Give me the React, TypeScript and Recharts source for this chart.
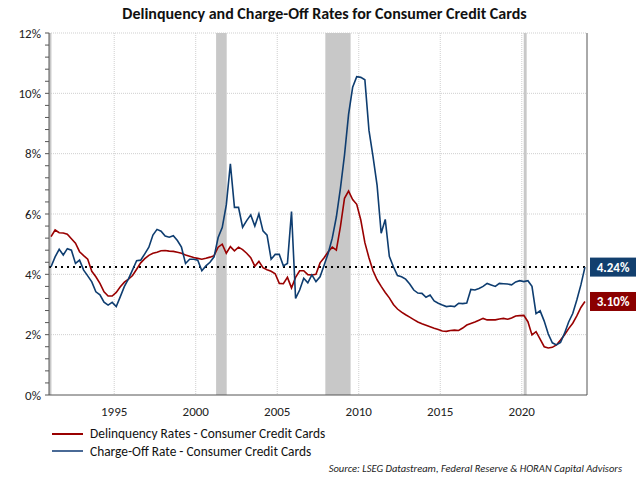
import {
  ComposedChart, Line, XAxis, YAxis, CartesianGrid, ReferenceArea, ReferenceLine, ReferenceDot,
} from 'recharts';

// quarterly observations, 1991Q1 .. 2023Q4 (plotted mid-quarter)
const startYear = 1991;

const delinquency = [
  5.25, 5.47, 5.38, 5.37, 5.33, 5.18, 5.03, 4.75, 4.62, 4.5, 4.1, 3.92,
  3.7, 3.42, 3.28, 3.28, 3.4, 3.59, 3.74, 3.84, 3.96, 4.17, 4.38, 4.52,
  4.63, 4.7, 4.73, 4.78, 4.79, 4.77, 4.76, 4.73, 4.7, 4.64, 4.6, 4.56,
  4.53, 4.5, 4.53, 4.57, 4.62, 4.9, 5.0, 4.7, 4.92, 4.78, 4.9, 4.82,
  4.7, 4.55, 4.27, 4.43, 4.22, 4.15, 4.1, 4.02, 3.7, 3.69, 3.9, 3.55,
  3.9, 4.12, 4.12, 3.99, 3.98, 4.0, 4.38, 4.55, 4.75, 4.9, 4.8, 5.58,
  6.52, 6.76, 6.48, 6.32, 5.8, 5.05, 4.55, 4.12, 3.82, 3.6, 3.4, 3.22,
  3.0, 2.85, 2.75, 2.66, 2.58, 2.5, 2.42, 2.36, 2.31, 2.26, 2.21, 2.17,
  2.12, 2.11, 2.14, 2.15, 2.14, 2.22, 2.32, 2.37, 2.42, 2.48, 2.54, 2.49,
  2.49, 2.49, 2.52, 2.54, 2.51, 2.55, 2.62, 2.63, 2.64, 2.43, 1.99, 2.1,
  1.85, 1.6, 1.56, 1.58, 1.66, 1.82, 2.0, 2.2, 2.38, 2.62, 2.9, 3.1,
];

const chargeOff = [
  4.25, 4.58, 4.83, 4.64, 4.85, 4.8, 4.36, 4.47, 4.14, 3.95, 3.75, 3.42,
  3.32, 3.08, 2.98, 3.07, 2.93, 3.26, 3.6, 3.85, 4.15, 4.45, 4.47, 4.68,
  4.9, 5.3, 5.49, 5.43, 5.27, 5.23, 5.28, 5.12, 4.9, 4.36, 4.5, 4.5,
  4.47, 4.12, 4.28, 4.4, 4.58, 5.22, 5.55, 6.3, 7.66, 6.22, 6.22, 5.56,
  5.78, 5.97, 5.6, 6.0, 5.44, 5.3, 4.5, 4.66, 4.66, 4.28, 4.36, 6.08,
  3.2, 3.48, 3.87, 3.72, 3.98, 3.76, 3.92, 4.3, 4.7, 5.2, 5.9, 6.85,
  7.95, 9.3, 10.2, 10.55, 10.53, 10.45, 8.78, 7.9, 6.95, 5.36, 5.82, 4.6,
  4.25, 3.96, 3.92, 3.84, 3.68, 3.48, 3.38, 3.37, 3.24, 3.31, 3.12, 3.04,
  2.98, 2.93, 2.95, 2.93, 3.04, 3.03, 3.05, 3.5, 3.48, 3.53, 3.6, 3.7,
  3.65, 3.6, 3.7, 3.69, 3.68, 3.65, 3.75, 3.79, 3.76, 3.79, 3.6, 2.7,
  2.79, 2.45, 2.02, 1.73, 1.66, 1.74, 2.05, 2.42, 2.7, 3.15, 3.65, 4.24,
];

const recessions = [
  [1991.0, 1991.15],
  [2001.25, 2001.9],
  [2007.95, 2009.5],
  [2020.12, 2020.3],
];

const yearTicks = [1995, 2000, 2005, 2010, 2015, 2020];
const pctGrid = [2, 4, 6, 8, 10, 12];
const pctTicks = [
  0, 0.4, 0.8, 1.2, 1.6, 2, 2.4, 2.8, 3.2, 3.6, 4, 4.4, 4.8, 5.2, 5.6, 6,
  6.4, 6.8, 7.2, 7.6, 8, 8.4, 8.8, 9.2, 9.6, 10, 10.4, 10.8, 11.2, 11.6, 12,
];

const RED = '#990000';
const BLUE = '#0e3d70';
const FONT = 'Carlito, Lato, "Liberation Sans", sans-serif';

const data = delinquency.map((d, i) => ({
  year: startYear + i / 4 + 0.125,
  delinquency: d,
  chargeOff: chargeOff[i],
}));

const lastDelinq = delinquency[delinquency.length - 1];
const lastCharge = chargeOff[chargeOff.length - 1];

const pctLabel = (v: number) => (Math.round(v * 10) % 20 === 0 ? `${v}%` : '');

function EndTag({ cx, cy, color, text }: any) {
  return (
    <g>
      <rect x={cx + 3} y={cy - 9.5} width={46} height={19} fill={color} />
      <text x={cx + 26} y={cy + 4.5} textAnchor="middle" fill="#fff" fontSize={13} fontWeight="bold" fontFamily={FONT}>
        {text}
      </text>
    </g>
  );
}

export default function App() {
  const axisTick = { fill: '#222', fontSize: 13, fontFamily: FONT };
  return (
    <div style={{ position: 'absolute', left: 0, top: 0, width: 639, height: 481, background: '#fff', fontFamily: FONT }}>
      <div style={{ position: 'absolute', top: 4, left: 5, width: 639, textAlign: 'center', fontSize: 16, fontWeight: 'bold', color: '#111' }}>
        Delinquency and Charge-Off Rates for Consumer Credit Cards
      </div>

      <ComposedChart width={639} height={420} data={data} margin={{ top: 33, right: 0, bottom: 0, left: 0 }}>
        <CartesianGrid stroke="#cfcfcf" strokeDasharray="1 1" horizontalValues={pctGrid} verticalValues={yearTicks} yAxisId="left" />
        {recessions.map(([a, b]) => (
          <ReferenceArea key={a} x1={a} x2={b} yAxisId="left" y1={0} y2={12} fill="#c8c8c8" fillOpacity={1} stroke="none" />
        ))}
        <XAxis
          dataKey="year" type="number" domain={[1991, 2024]} ticks={yearTicks} allowDataOverflow
          height={25} tick={axisTick} tickLine={false} axisLine={{ stroke: '#555' }} tickMargin={6}
        />
        <YAxis
          yAxisId="left" domain={[0, 12]} ticks={pctTicks} interval={0} tickFormatter={pctLabel} width={49}
          tick={axisTick} tickSize={4} tickLine={{ stroke: '#555' }} axisLine={{ stroke: '#555' }} tickMargin={4}
        />
        <YAxis
          yAxisId="right" orientation="right" domain={[0, 12]} ticks={pctTicks} interval={0} tickFormatter={pctLabel} width={52}
          tick={axisTick} tickSize={4} tickLine={{ stroke: '#555' }} axisLine={{ stroke: '#555' }} tickMargin={5}
        />
        <ReferenceLine yAxisId="left" y={lastCharge} stroke="#000" strokeWidth={2} strokeDasharray="2 4" />
        <Line yAxisId="left" dataKey="delinquency" stroke={RED} strokeWidth={1.6} dot={false} isAnimationActive={false} />
        <Line yAxisId="left" dataKey="chargeOff" stroke={BLUE} strokeWidth={1.6} dot={false} isAnimationActive={false} />
        <ReferenceDot yAxisId="left" x={2024} y={lastCharge} ifOverflow="visible"
          shape={(p: any) => <EndTag {...p} color="#123f6e" text={`${lastCharge.toFixed(2)}%`} />} />
        <ReferenceDot yAxisId="left" x={2024} y={lastDelinq} ifOverflow="visible"
          shape={(p: any) => <EndTag {...p} color="#8b0000" text={`${lastDelinq.toFixed(2)}%`} />} />
      </ComposedChart>

      <div style={{ position: 'absolute', left: 52, top: 425, fontSize: 13.4, color: '#111', lineHeight: '17.5px' }}>
        <div style={{ display: 'flex', alignItems: 'center' }}>
          <span style={{ display: 'inline-block', width: 31, height: 2, background: RED, marginRight: 7 }} />
          Delinquency Rates - Consumer Credit Cards
        </div>
        <div style={{ display: 'flex', alignItems: 'center' }}>
          <span style={{ display: 'inline-block', width: 31, height: 2, background: '#4a6a96', marginRight: 7 }} />
          Charge-Off Rate - Consumer Credit Cards
        </div>
      </div>
      <div style={{ position: 'absolute', right: 17, top: 462, fontSize: 10.5, fontStyle: 'italic', color: '#222' }}>
        Source: LSEG Datastream, Federal Reserve &amp; HORAN Capital Advisors
      </div>
    </div>
  );
}
